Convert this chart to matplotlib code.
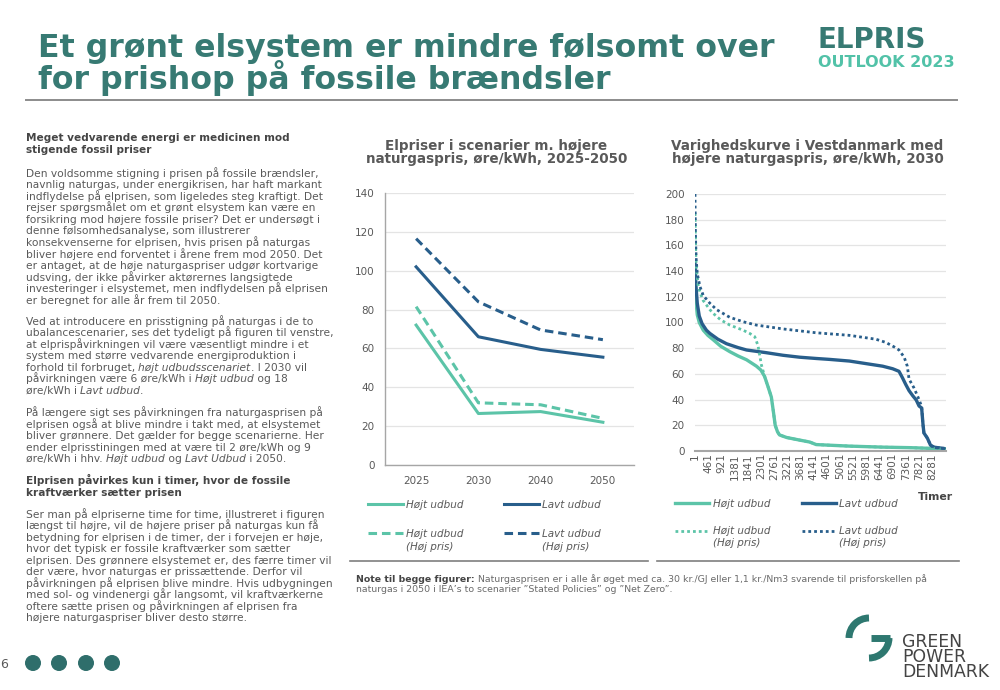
import matplotlib
matplotlib.use('Agg')
import matplotlib.pyplot as plt
from matplotlib.lines import Line2D
from matplotlib.patches import Circle, Arc

# ---------------- data ----------------
years = ['2025', '2030', '2040', '2050']
hojt_udbud = [72, 26.5, 27.5, 22]
hojt_udbud_hp = [81.5, 32, 31, 24]
lavt_udbud = [102, 66, 59.5, 55.5]
lavt_udbud_hp = [116.5, 84, 69.5, 64.5]
left_yticks = [0, 20, 40, 60, 80, 100, 120, 140]

series_labels = ['Højt udbud', 'Lavt udbud', 'Højt udbud\n(Høj pris)', 'Lavt udbud\n(Høj pris)']

# duration curves (hour of year, øre/kWh)
h_hojt = [1, 30, 80, 150, 290, 450, 640, 900, 1216, 1500, 1800, 2145, 2300, 2430, 2550,
          2665, 2740, 2800, 2880, 2950, 3200, 3650, 4000, 4230, 4800, 5390, 6550, 7500, 8280, 8760]
v_hojt = [132, 118, 106, 100, 94, 90, 86.5, 81.5, 77.3, 74, 71, 66, 63, 58, 50,
          42, 30, 20, 15, 12.5, 10.5, 8.5, 7, 5, 4.4, 3.8, 3, 2.6, 2, 1.5]

h_hojt_hp = [1, 30, 60, 116, 200, 290, 520, 640, 900, 1216, 1680, 1910, 2085, 2200, 2318, 2430,
             2550, 2665, 2740, 2800, 2880, 2950, 3200, 3650, 4000, 4230, 4800, 5390, 6550, 7500, 8280, 8760]
v_hojt_hp = [185, 150, 140, 128, 122, 117, 110, 107, 102, 98, 94, 91.5, 89, 82, 67, 58,
             50, 42, 30, 20, 15, 12.5, 10.5, 8.5, 7, 5, 4.4, 3.8, 3, 2.6, 2, 1.5]

h_lavt = [1, 30, 80, 150, 250, 400, 520, 800, 1100, 1500, 1800, 2490, 3070, 3650, 4230, 4690,
          5390, 5970, 6550, 6900, 7120, 7240, 7350, 7470, 7600, 7720, 7820, 7910, 7960, 7990,
          8110, 8220, 8340, 8500, 8690, 8760]
v_lavt = [146, 130, 115, 105, 99, 94, 91.5, 87, 83.5, 80.5, 78.6, 76.5, 74.5, 73, 72, 71.3,
          70, 68, 66, 64, 62, 57, 52, 47, 43, 39.7, 35, 33.5, 20, 14,
          10, 4.5, 3, 2.5, 2, 1]

h_lavt_hp = [1, 15, 40, 80, 174, 290, 520, 755, 1216, 1680, 2140, 3070, 4230, 5390, 5850,
             6310, 6660, 6950, 7120, 7300, 7410, 7470, 7645, 7820, 7910, 7960, 7990,
             8110, 8220, 8340, 8500, 8690, 8760]
v_lavt_hp = [200, 170, 150, 138, 128, 121, 115, 110, 104, 100.6, 98, 95, 92, 90, 88.5,
             87, 84.5, 81, 78.6, 73, 66, 56, 49, 40, 34.5, 20, 14,
             10, 4.5, 3, 2.5, 2, 1]

timer_labels = ['1', '461', '921', '1381', '1841', '2301', '2761', '3221', '3681', '4141',
                '4601', '5061', '5521', '5981', '6441', '6901', '7361', '7821', '8281']
right_yticks = [0, 20, 40, 60, 80, 100, 120, 140, 160, 180, 200]

# ---------------- text ----------------
title_lines = ['Et grønt elsystem er mindre følsomt over', 'for prishop på fossile brændsler']
heading1 = ['Meget vedvarende energi er medicinen mod', 'stigende fossil priser']
para1 = ['Den voldsomme stigning i prisen på fossile brændsler,',
         'navnlig naturgas, under energikrisen, har haft markant',
         'indflydelse på elprisen, som ligeledes steg kraftigt. Det',
         'rejser spørgsmålet om et grønt elsystem kan være en',
         'forsikring mod højere fossile priser? Det er undersøgt i',
         'denne følsomhedsanalyse, som illustrerer',
         'konsekvenserne for elprisen, hvis prisen på naturgas',
         'bliver højere end forventet i årene frem mod 2050. Det',
         'er antaget, at de høje naturgaspriser udgør kortvarige',
         'udsving, der ikke påvirker aktørernes langsigtede',
         'investeringer i elsystemet, men indflydelsen på elprisen',
         'er beregnet for alle år frem til 2050.']
para2 = ['Ved at introducere en prisstigning på naturgas i de to',
         'ubalancescenarier, ses det tydeligt på figuren til venstre,',
         'at elprispåvirkningen vil være væsentligt mindre i et',
         'system med større vedvarende energiproduktion i',
         'forhold til forbruget, *højt udbudsscenariet*. I 2030 vil',
         'påvirkningen være 6 øre/kWh i *Højt udbud* og 18',
         'øre/kWh i *Lavt udbud*.']
para3 = ['På længere sigt ses påvirkningen fra naturgasprisen på',
         'elprisen også at blive mindre i takt med, at elsystemet',
         'bliver grønnere. Det gælder for begge scenarierne. Her',
         'ender elprisstiningen med at være til 2 øre/kWh og 9',
         'øre/kWh i hhv. *Højt udbud* og *Lavt Udbud* i 2050.']
heading2 = ['Elprisen påvirkes kun i timer, hvor de fossile', 'kraftværker sætter prisen']
para4 = ['Ser man på elpriserne time for time, illustreret i figuren',
         'længst til højre, vil de højere priser på naturgas kun få',
         'betydning for elprisen i de timer, der i forvejen er høje,',
         'hvor det typisk er fossile kraftværker som sætter',
         'elprisen. Des grønnere elsystemet er, des færre timer vil',
         'der være, hvor naturgas er prissættende. Derfor vil',
         'påvirkningen på elprisen blive mindre. Hvis udbygningen',
         'med sol- og vindenergi går langsomt, vil kraftværkerne',
         'oftere sætte prisen og påvirkningen af elprisen fra',
         'højere naturgaspriser bliver desto større.']
left_title = ['Elpriser i scenarier m. højere', 'naturgaspris, øre/kWh, 2025-2050']
right_title = ['Varighedskurve i Vestdanmark med', 'højere naturgaspris, øre/kWh, 2030']
note_bold = 'Note til begge figurer: '
note_l1 = 'Naturgasprisen er i alle år øget med ca. 30 kr./GJ eller 1,1 kr./Nm3 svarende til prisforskellen på'
note_l2 = 'naturgas i 2050 i IEA\u2019s to scenarier \u201dStated Policies\u201d og \u201dNet Zero\u201d.'
logo_words = ['GREEN', 'POWER', 'DENMARK']

# ---------------- colours ----------------
HOJT = '#5cc4a8'
LAVT = '#285e8b'
TEAL_DARK = '#377a73'
TEAL_LIGHT = '#52c2a8'
BODY = '#595959'
HEAD = '#454545'
LOGO = '#2e7870'

W, H = 1000, 690
plt.rcParams['font.family'] = ['DejaVu Sans']
fig = plt.figure(figsize=(W / 100, H / 100), dpi=100)
fig.patch.set_facecolor('white')
renderer = fig.canvas.get_renderer()


def fx(x):
    return x / W


def fy(y):
    return 1 - y / H


def measure(s, **kw):
    t1 = fig.text(0, 0, s + '|', **kw)
    t2 = fig.text(0, 0, '|', **kw)
    w = t1.get_window_extent(renderer).width - t2.get_window_extent(renderer).width
    t1.remove()
    t2.remove()
    return w


def fit(s, target, base=10.0, **kw):
    return base * target / measure(s, fontsize=base, **kw)


def em(size):
    return size * 100 / 72


def multiline(x, base1, step, lines, ha='left', **kw):
    """Draw several lines as one text object: first baseline at base1 (px from top), given step."""
    t = fig.text(0, fy(base1), lines[0], va='baseline', **kw)
    top1 = H - t.get_window_extent(renderer).y1
    t.remove()
    t = fig.text(0, fy(base1 + (len(lines) - 1) * step), lines[-1], va='baseline', **kw)
    bot_target = H - t.get_window_extent(renderer).y0
    t.remove()
    target_h = bot_target - top1
    txt = '\n'.join(lines)
    hs = []
    for ls in (1.0, 2.0):
        t = fig.text(0, 0.5, txt, va='top', linespacing=ls, **kw)
        hs.append(t.get_window_extent(renderer).height)
        t.remove()
    b = hs[1] - hs[0]
    ls = 1.0 + (target_h - hs[0]) / b if b else 1.0
    return fig.text(fx(x), fy(top1), txt, va='top', ha=ha, linespacing=ls, **kw)


def rich_line(x, yc, line, size, color, bold=False):
    yb = yc + 0.36 * em(size)
    parts = line.split('*')
    cx = x
    for i, p in enumerate(parts):
        if not p:
            continue
        kw = dict(fontsize=size, color=color)
        if bold:
            kw['fontweight'] = 'bold'
        if i % 2 == 1:
            kw['fontstyle'] = 'italic'
        fig.text(fx(cx), fy(yb), p, va='baseline', ha='left', **kw)
        cx += measure(p, **kw)


# ---------------- header ----------------
tsize = fit(title_lines[0], 737, fontweight='bold')
multiline(38, 56.7, 31.8, title_lines, fontsize=tsize, fontweight='bold', color=TEAL_DARK)
es = fit('ELPRIS', 109, fontweight='bold')
fig.text(fx(817), fy(48.5), 'ELPRIS', fontsize=es, fontweight='bold', color=TEAL_DARK, va='baseline')
os_ = fit('OUTLOOK 2023', 137, fontweight='bold')
fig.text(fx(818), fy(67), 'OUTLOOK 2023', fontsize=os_, fontweight='bold', color=TEAL_LIGHT, va='baseline')
fig.add_artist(Line2D([fx(26), fx(957)], [fy(100), fy(100)], color='#8c8c8c', lw=1.4))

# ---------------- left column text ----------------
bsize = fit(para2[1], 306)
hsize = fit(heading1[0], 264, fontweight='bold')
for i, l in enumerate(heading1):
    rich_line(26, 137 + i * 12.5, l, hsize, HEAD, bold=True)
for i, l in enumerate(para1):
    rich_line(26, 172.7 + i * 11.57, l, bsize, BODY)
for i, l in enumerate(para2):
    rich_line(26, 321 + i * 11.5, l, bsize, BODY)
for i, l in enumerate(para3):
    rich_line(26, 412.3 + i * 11.5, l, bsize, BODY)
for i, l in enumerate(heading2):
    rich_line(26, 480 + i * 11.8, l, hsize, HEAD, bold=True)
for i, l in enumerate(para4):
    rich_line(26, 514 + i * 11.48, l, bsize, BODY)

# page number and dots
fig.text(fx(8), fy(663 + 0.36 * em(9)), '6', fontsize=9, color=BODY, ha='right', va='baseline')
for cxp in [33, 59, 86, 112]:
    fig.add_artist(Circle((cxp / 100, (H - 663) / 100), 0.073, color='#2f6e6b',
                          transform=fig.dpi_scale_trans))

# ---------------- chart titles ----------------
ctsize = fit(left_title[1], 262, fontweight='bold')
for i, l in enumerate(left_title):
    fig.text(fx(496.5), fy(145 + i * 13.5 + 0.36 * em(ctsize)), l, fontsize=ctsize, fontweight='bold',
             color=BODY, ha='center', va='baseline')
for i, l in enumerate(right_title):
    fig.text(fx(807.5), fy(145 + i * 13.5 + 0.36 * em(ctsize)), l, fontsize=ctsize, fontweight='bold',
             color=BODY, ha='center', va='baseline')

DASH = (2.8, 1.6)
DOT = (1.0, 1.1)
TICKSZ = 7.5

# ---------------- left chart ----------------
axL = fig.add_axes([fx(385), fy(465), fx(634) - fx(385), fy(193) - fy(465)])
xs = list(range(len(years)))
axL.plot(xs, hojt_udbud, color=HOJT, lw=2.2)
axL.plot(xs, lavt_udbud, color=LAVT, lw=2.2)
axL.plot(xs, hojt_udbud_hp, color=HOJT, lw=2.2, dashes=DASH)
axL.plot(xs, lavt_udbud_hp, color=LAVT, lw=2.2, dashes=DASH)
axL.set_xlim(-0.5, len(years) - 0.5)
axL.set_ylim(0, 140)
axL.set_yticks(left_yticks)
axL.set_xticks(xs, years)
axL.grid(axis='y', color='#e4e4e4', lw=0.9)
axL.set_axisbelow(True)
for s in ['top', 'right']:
    axL.spines[s].set_visible(False)
for s in ['left', 'bottom']:
    axL.spines[s].set_color('#a6a6a6')
    axL.spines[s].set_linewidth(1.0)
axL.tick_params(axis='both', length=0, labelsize=TICKSZ, labelcolor=BODY)
axL.tick_params(axis='y', pad=7.5)
axL.tick_params(axis='x', pad=8.0)

# ---------------- right chart ----------------
axR = fig.add_axes([fx(695), fy(451), fx(946) - fx(695), fy(194) - fy(451)])
axR.plot(h_hojt, v_hojt, color=HOJT, lw=2.4)
axR.plot(h_lavt, v_lavt, color=LAVT, lw=2.4)
axR.plot(h_hojt_hp, v_hojt_hp, color=HOJT, lw=2.0, dashes=DOT)
axR.plot(h_lavt_hp, v_lavt_hp, color=LAVT, lw=2.0, dashes=DOT)
axR.set_xlim(1, 8760)
axR.set_ylim(0, 200)
axR.set_yticks(right_yticks)
axR.set_xticks([int(t) for t in timer_labels], timer_labels, rotation=90)
axR.grid(axis='y', color='#e4e4e4', lw=0.9)
axR.set_axisbelow(True)
for s in ['top', 'right', 'left']:
    axR.spines[s].set_visible(False)
axR.spines['bottom'].set_color('#a6a6a6')
axR.spines['bottom'].set_linewidth(1.5)
axR.tick_params(axis='both', length=0, labelsize=TICKSZ, labelcolor=BODY)
axR.tick_params(axis='y', pad=7.5)
axR.tick_params(axis='x', pad=1.5)
fig.text(fx(953), fy(496 + 0.36 * em(7.8)), 'Timer', fontsize=7.8, fontweight='bold', color=HEAD,
         ha='right', va='baseline')

# ---------------- legends ----------------
LSZ = 7.5


def legend_item(x0, x1, xt, y, label, color, style, lw, y2):
    kw = dict(color=color, lw=lw)
    if style is not None:
        kw['dashes'] = style
    fig.add_artist(Line2D([fx(x0), fx(x1)], [fy(y), fy(y)], **kw))
    lines = label.split('\n')
    for k, l in enumerate(lines):
        yy = y if k == 0 else y2
        fig.text(fx(xt), fy(yy + 0.36 * em(LSZ)), l, fontsize=LSZ, fontstyle='italic', color=BODY,
                 ha='left', va='baseline')


legend_item(368, 403, 406, 504.3, series_labels[0], HOJT, None, 2.2, 0)
legend_item(504, 539, 542, 504.3, series_labels[1], LAVT, None, 2.2, 0)
legend_item(368, 403, 406, 533.3, series_labels[2], HOJT, DASH, 2.2, 546.7)
legend_item(504, 539, 542, 533.3, series_labels[3], LAVT, DASH, 2.2, 546.7)

legend_item(675, 709, 713, 503.3, series_labels[0], HOJT, None, 2.4, 0)
legend_item(802, 836, 839, 503.3, series_labels[1], LAVT, None, 2.4, 0)
legend_item(675, 709, 713, 530.7, series_labels[2], HOJT, DOT, 2.0, 542.7)
legend_item(802, 836, 839, 530.7, series_labels[3], LAVT, DOT, 2.0, 542.7)

fig.add_artist(Line2D([fx(350), fx(648)], [fy(561), fy(561)], color='#7f7f7f', lw=1.2))
fig.add_artist(Line2D([fx(657), fx(959)], [fy(561), fy(561)], color='#7f7f7f', lw=1.2))

# ---------------- note ----------------
nsize_base = 10
wtot = measure(note_bold, fontsize=nsize_base, fontweight='bold') + measure(note_l1, fontsize=nsize_base)
nsize = nsize_base * 573 / wtot
yb1 = 579 + 0.36 * em(nsize)
fig.text(fx(356), fy(yb1), note_bold, fontsize=nsize, fontweight='bold', color=HEAD, va='baseline')
wb = measure(note_bold, fontsize=nsize, fontweight='bold')
fig.text(fx(356 + wb), fy(yb1), note_l1, fontsize=nsize, color='#6a6a6a', va='baseline')
fig.text(fx(356), fy(589 + 0.36 * em(nsize)), note_l2, fontsize=nsize, color='#6a6a6a', va='baseline')

# ---------------- logo ----------------
cxl, cyl, r = 869, 638, 20
for t1, t2 in [(90, 180), (270, 360)]:
    fig.add_artist(Arc((cxl / 100, (H - cyl) / 100), 2 * r / 100, 2 * r / 100, theta1=t1, theta2=t2,
                       lw=5.0, color=LOGO, transform=fig.dpi_scale_trans))
fig.add_artist(Line2D([fx(871), fx(cxl + r + 0.5)], [fy(cyl), fy(cyl)], color=LOGO, lw=5.0,
                      solid_capstyle='butt'))
lsz = fit('DENMARK', 87)
multiline(902, 641 + 0.36 * em(lsz), 15.0, logo_words, fontsize=lsz, color='#444444')

fig.savefig('out.png', dpi=100, facecolor='white')
